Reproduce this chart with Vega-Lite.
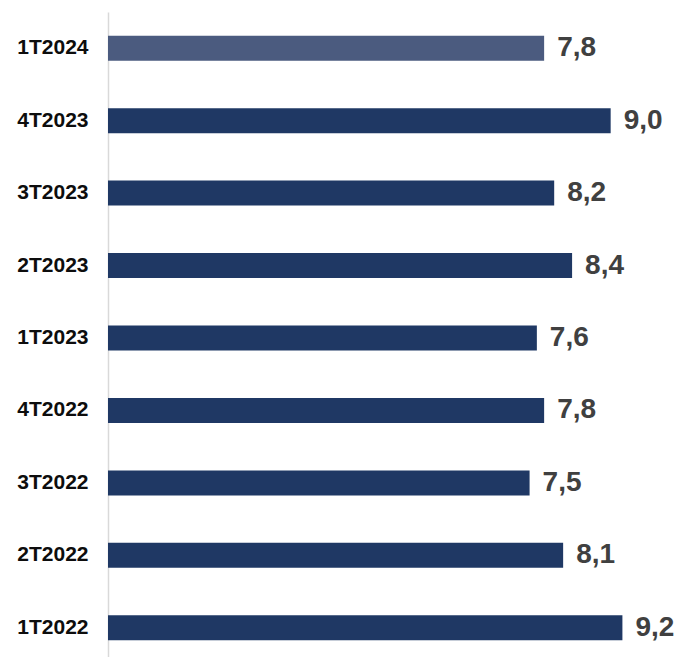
{
  "$schema": "https://vega.github.io/schema/vega-lite/v6.json",
  "width": 572,
  "height": 652,
  "autosize": "none",
  "padding": {"left": 108, "top": 12, "right": 0, "bottom": 0},
  "background": "white",
  "config": {
    "view": {"stroke": null},
    "locale": {"number": {"decimal": ",", "thousands": ".", "grouping": [3], "currency": ["", ""]}}
  },
  "data": {
    "values": [
      {"periodo": "1T2024", "valor": 7.8, "rotulo": 7.8},
      {"periodo": "4T2023", "valor": 8.99, "rotulo": 9.0},
      {"periodo": "3T2023", "valor": 7.98, "rotulo": 8.2},
      {"periodo": "2T2023", "valor": 8.3, "rotulo": 8.4},
      {"periodo": "1T2023", "valor": 7.67, "rotulo": 7.6},
      {"periodo": "4T2022", "valor": 7.8, "rotulo": 7.8},
      {"periodo": "3T2022", "valor": 7.54, "rotulo": 7.5},
      {"periodo": "2T2022", "valor": 8.14, "rotulo": 8.1},
      {"periodo": "1T2022", "valor": 9.2, "rotulo": 9.2}
    ]
  },
  "encoding": {
    "y": {
      "field": "periodo",
      "type": "nominal",
      "sort": null,
      "scale": {"paddingInner": 0, "paddingOuter": 0},
      "axis": {
        "title": null,
        "domainColor": "#d9d9d9",
        "domainWidth": 1.5,
        "ticks": false,
        "labelFontSize": 21,
        "labelFont": "Liberation Sans",
        "labelFontWeight": "bold",
        "labelColor": "#0d0d0d",
        "labelPadding": 20
      }
    },
    "x": {
      "field": "valor",
      "type": "quantitative",
      "scale": {"domain": [0, 10.23]},
      "axis": null
    }
  },
  "layer": [
    {
      "mark": {"type": "bar", "size": 25},
      "encoding": {
        "color": {
          "condition": {"test": "datum.periodo === '1T2024'", "value": "#4B5B7F"},
          "value": "#1F3864"
        }
      }
    },
    {
      "mark": {
        "type": "text",
        "align": "left",
        "baseline": "middle",
        "dx": 13,
        "font": "Liberation Sans",
        "fontSize": 28,
        "fontWeight": "bold",
        "color": "#404040"
      },
      "encoding": {
        "text": {"field": "rotulo", "type": "quantitative", "format": ".1f"}
      }
    }
  ]
}
